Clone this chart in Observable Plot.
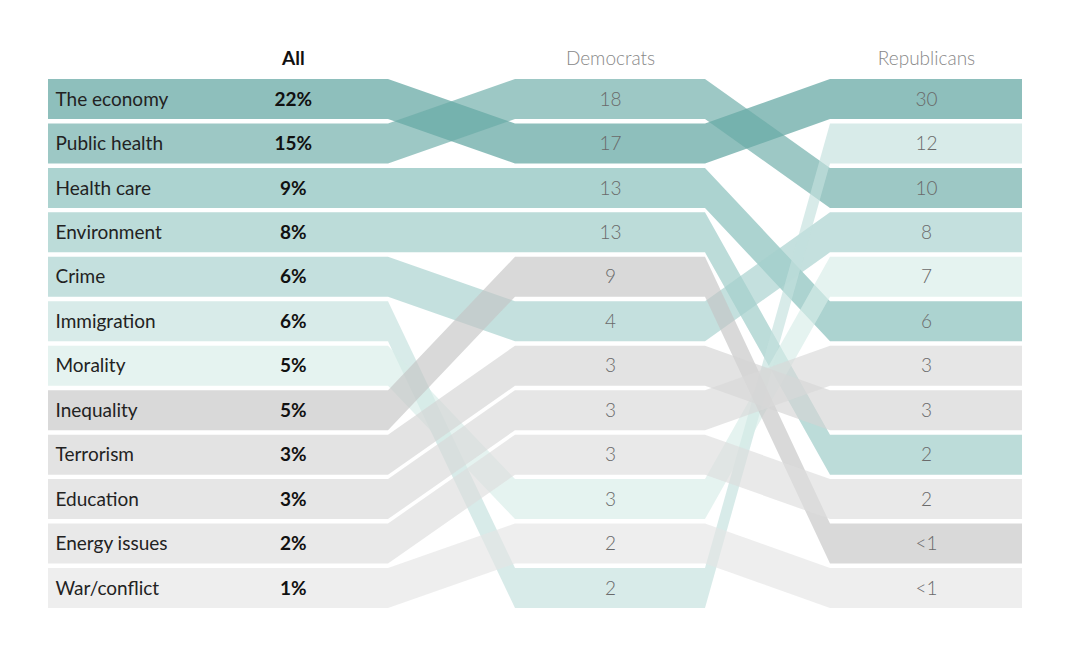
<!DOCTYPE html>
<html>
<head>
<meta charset="utf-8">
<script src="https://cdn.jsdelivr.net/npm/d3@7"></script>
<script src="https://cdn.jsdelivr.net/npm/@observablehq/plot@0.6"></script>
<style>
  html, body { margin: 0; padding: 0; background: #fff; }
  #chart svg { display: block; font-family: Lato, "Open Sans", sans-serif; }
</style>
</head>
<body>
<div id="chart"></div>
<script>
// ---- data ----
const categories = ["The economy", "Public health", "Health care", "Environment", "Crime", "Immigration",
  "Morality", "Inequality", "Terrorism", "Education", "Energy issues", "War/conflict"];
const allValues = [22, 15, 9, 8, 6, 6, 5, 5, 3, 3, 2, 1];
const allRank = [0, 1, 2, 3, 4, 5, 6, 7, 8, 9, 10, 11];
const demLabels = ["17", "18", "13", "13", "4", "2", "3", "9", "3", "3", "3", "2"];
const demRank = [1, 0, 2, 3, 5, 11, 9, 4, 6, 7, 8, 10];
const repLabels = ["30", "10", "6", "2", "8", "12", "7", "<1", "3", "3", "2", "<1"];
const repRank = [0, 2, 5, 8, 3, 1, 4, 10, 7, 6, 9, 11];
const columns = ["All", "Democrats", "Republicans"];

// ---- styles / layout ----
const apparent = ["#8ebfbc", "#9dc8c5", "#acd3d0", "#bcdcd9", "#c4e0de", "#d8ebe9",
  "#e5f3f0", "#d9d9d9", "#e3e3e3", "#e6e6e6", "#e9e9e9", "#eeeeee"];
const alpha = 0.65;
const baseColors = apparent.map(c => {
  const k = d3.rgb(c);
  const f = v => Math.max(0, Math.min(255, 255 - (255 - v) / alpha));
  return d3.rgb(f(k.r), f(k.g), f(k.b)).formatHex();
});
// stage 0..5: All start/end, Democrats start/end, Republicans start/end
const stageX = d3.scaleLinear().domain([0, 1, 2, 3, 4, 5]).range([48, 388, 515, 705, 830, 1022]);

// ---- build band table ----
const pts = [];
categories.forEach((cat, i) => {
  const ranks = [allRank[i], allRank[i], demRank[i], demRank[i], repRank[i], repRank[i]];
  ranks.forEach((r, s) => pts.push({cat, stage: s, rank: r}));
});
const rows = categories.map((cat, i) => ({
  cat, all: allRank[i], dem: demRank[i], rep: repRank[i],
  pct: allValues[i] + "%", demL: demLabels[i], repL: repLabels[i]
}));
const half = 0.45;
const font = "Lato, 'Open Sans', sans-serif";
const xAll = stageX(0.72), xDem = stageX(2.5), xRep = stageX(4.5);

const chart = Plot.plot({
  width: 1070,
  height: 651,
  margin: 0,
  x: {type: "identity"},
  y: {domain: [0, 11], range: [99, 588], axis: null},
  color: {domain: categories, range: baseColors},
  style: {fontFamily: font, background: "#fff"},
  marks: [
    Plot.areaY(pts, {x: d => stageX(d.stage), y1: d => d.rank - half, y2: d => d.rank + half, z: "cat",
      fill: "cat", fillOpacity: alpha, curve: "linear"}),
    Plot.text(rows, {x: stageX(0), y: "all", text: "cat", dx: 7, textAnchor: "start",
      fontSize: 19, fill: "#222"}),
    Plot.text(rows, {x: xAll, y: "all", text: "pct", fontSize: 19, fontWeight: 700, fill: "#111"}),
    Plot.text(rows, {x: xDem, y: "dem", text: "demL", fontSize: 19, fontWeight: 300, fill: "#6a6a6a"}),
    Plot.text(rows, {x: xRep, y: "rep", text: "repL", fontSize: 19, fontWeight: 300, fill: "#6a6a6a"}),
    Plot.text([columns[0]], {x: xAll, y: -1, text: d => d, dy: 4, fontSize: 19, fontWeight: 700, fill: "#111"}),
    Plot.text(columns.slice(1), {x: [xDem, xRep], y: [-1, -1], text: d => d, dy: 4, fontSize: 19,
      fontWeight: 300, fill: "#888"})
  ]
});
document.getElementById("chart").appendChild(chart);
</script>
</body>
</html>
